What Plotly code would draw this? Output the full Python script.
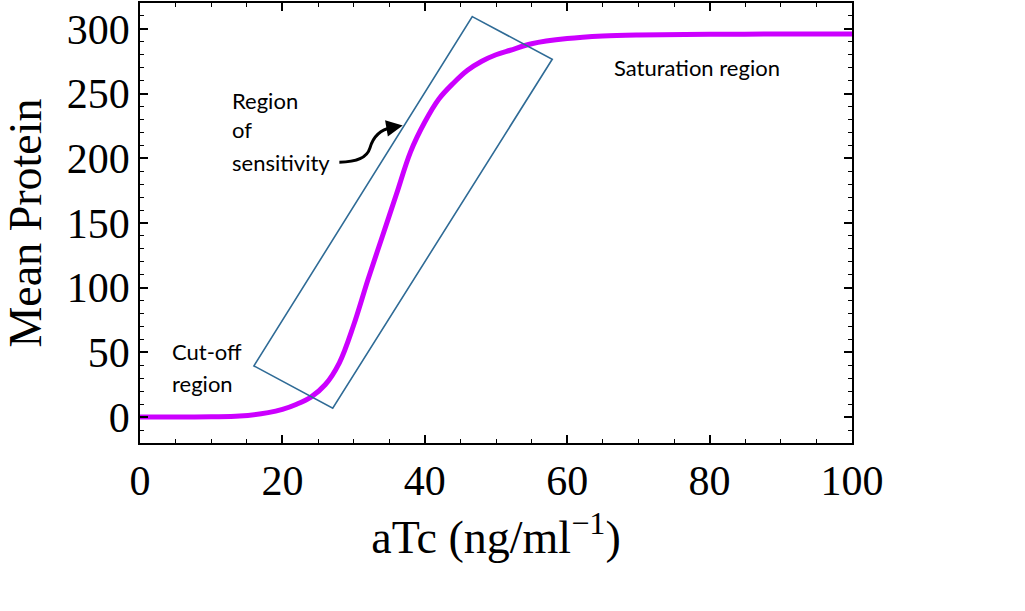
import plotly.graph_objects as go

# aTc concentration vs mean protein
atc = [0, 10, 14, 18, 20, 22, 24, 26, 28, 30, 32, 34, 36, 38, 40, 42, 44, 46,
       48, 50, 52, 55, 60, 65, 70, 80, 90, 100]
mean_protein = [0, 0.2, 0.8, 3.5, 6, 10, 15.5, 25, 42, 71, 106, 139, 172, 205,
                228, 246, 258, 268, 275, 280, 283.5, 288.5, 292.5, 294.5, 295.3,
                295.8, 296, 296]

x_ticks = [0, 20, 40, 60, 80, 100]
y_ticks = [0, 50, 100, 150, 200, 250, 300]

serif = "Liberation Serif"
sans = "Lato"

fig = go.Figure()
fig.add_trace(go.Scatter(x=atc, y=mean_protein, mode='lines',
                         line=dict(color='#CC00FF', width=5, shape='spline', smoothing=1),
                         showlegend=False, hoverinfo='x+y'))

# box around the region of sensitivity
fig.add_shape(type='path', xref='x', yref='y',
              path='M 46.67,309.5 L 57.9,276.5 L 27.07,6.9 L 16.0,39.6 Z',
              line=dict(color='#2F6B96', width=1.6))

# curly arrow from the label to the box
fig.add_shape(type='path', xref='x', yref='y',
              path='M 28,197 C 30.6,197 31.9,200.5 32.3,208 C 32.7,216 33.6,222 35.4,223.8',
              line=dict(color='black', width=3))
fig.add_annotation(x=36.9, y=225.3, ax=35.2, ay=223.7, axref='x', ayref='y',
                   xref='x', yref='y', text='', showarrow=True,
                   arrowhead=2, arrowsize=1.1, arrowwidth=3, arrowcolor='black')

labels = [
    ('Region', 12.6, 244.5),
    ('of', 12.6, 222.2),
    ('sensitivity', 12.6, 197),
    ('Cut-off', 4.2, 50.4),
    ('region', 4.2, 26.1),
    ('Saturation region', 66.3, 269.8),
]
for txt, lx, ly in labels:
    fig.add_annotation(x=lx, y=ly, text=txt, showarrow=False, xanchor='left',
                       yanchor='middle', font=dict(family=sans, size=22, color='black'))

axis_common = dict(showgrid=False, zeroline=False, showline=True, linecolor='black',
                   linewidth=1.5, mirror='allticks', ticks='inside', ticklen=8,
                   tickwidth=1.5, tickcolor='black',
                   tickfont=dict(family=serif, size=42, color='black'))

fig.update_xaxes(range=[0, 100], tickvals=x_ticks,
                 minor=dict(dtick=5, ticks='inside', ticklen=4, tickwidth=1.2, tickcolor='black'),
                 title=dict(text='aTc (ng/ml<sup>\u22121</sup>)', standoff=18,
                            font=dict(family=serif, size=46, color='black')),
                 **axis_common)
fig.update_yaxes(range=[-20, 320], tickvals=y_ticks,
                 minor=dict(dtick=10, ticks='inside', ticklen=4, tickwidth=1.2, tickcolor='black'),
                 title=dict(text='Mean Protein', standoff=14,
                            font=dict(family=serif, size=46, color='black')),
                 **axis_common)

fig.update_layout(width=1025, height=611, plot_bgcolor='white', paper_bgcolor='white',
                  margin=dict(l=140, r=173, t=1, b=168))

# drop the page's default body margin so the figure sits at the window corner
fig.write_html("out.html", config={'displayModeBar': False},
               post_script="document.body.style.margin='0';")
